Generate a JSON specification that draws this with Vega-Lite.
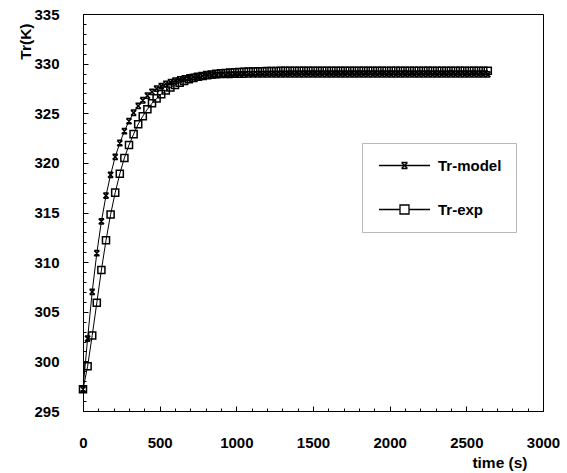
{
  "$schema": "https://vega.github.io/schema/vega-lite/v6.json",
  "width": 460,
  "height": 397,
  "autosize": {"type": "none"},
  "padding": {"left": 83, "top": 14, "right": 24, "bottom": 62},
  "background": "white",
  "config": {
    "view": {"stroke": "black", "strokeWidth": 1},
    "font": "Liberation Sans"
  },
  "data": {
    "values": [
      {"t": 0, "Tr-model": 297.2, "Tr-exp": 297.2},
      {"t": 30, "Tr-model": 302.3, "Tr-exp": 299.5},
      {"t": 60, "Tr-model": 307.0, "Tr-exp": 302.6},
      {"t": 90, "Tr-model": 310.9, "Tr-exp": 305.9},
      {"t": 120, "Tr-model": 314.1, "Tr-exp": 309.2},
      {"t": 150, "Tr-model": 316.7, "Tr-exp": 312.2},
      {"t": 180, "Tr-model": 318.8, "Tr-exp": 314.8},
      {"t": 210, "Tr-model": 320.6, "Tr-exp": 317.0},
      {"t": 240, "Tr-model": 322.0, "Tr-exp": 318.9},
      {"t": 270, "Tr-model": 323.2, "Tr-exp": 320.5},
      {"t": 300, "Tr-model": 324.2, "Tr-exp": 321.8},
      {"t": 330, "Tr-model": 325.05, "Tr-exp": 322.9},
      {"t": 360, "Tr-model": 325.74, "Tr-exp": 323.9},
      {"t": 390, "Tr-model": 326.31, "Tr-exp": 324.7},
      {"t": 420, "Tr-model": 326.77, "Tr-exp": 325.4},
      {"t": 450, "Tr-model": 327.16, "Tr-exp": 326.0},
      {"t": 480, "Tr-model": 327.48, "Tr-exp": 326.5},
      {"t": 510, "Tr-model": 327.74, "Tr-exp": 326.93},
      {"t": 540, "Tr-model": 327.96, "Tr-exp": 327.29},
      {"t": 570, "Tr-model": 328.14, "Tr-exp": 327.59},
      {"t": 600, "Tr-model": 328.29, "Tr-exp": 327.85},
      {"t": 630, "Tr-model": 328.41, "Tr-exp": 328.07},
      {"t": 660, "Tr-model": 328.51, "Tr-exp": 328.26},
      {"t": 690, "Tr-model": 328.6, "Tr-exp": 328.42},
      {"t": 720, "Tr-model": 328.67, "Tr-exp": 328.55},
      {"t": 750, "Tr-model": 328.72, "Tr-exp": 328.67},
      {"t": 780, "Tr-model": 328.77, "Tr-exp": 328.76},
      {"t": 810, "Tr-model": 328.8, "Tr-exp": 328.84},
      {"t": 840, "Tr-model": 328.83, "Tr-exp": 328.91},
      {"t": 870, "Tr-model": 328.85, "Tr-exp": 328.97},
      {"t": 900, "Tr-model": 328.86, "Tr-exp": 329.02},
      {"t": 930, "Tr-model": 328.87, "Tr-exp": 329.06},
      {"t": 960, "Tr-model": 328.88, "Tr-exp": 329.1},
      {"t": 990, "Tr-model": 328.89, "Tr-exp": 329.13},
      {"t": 1020, "Tr-model": 328.9, "Tr-exp": 329.16},
      {"t": 1050, "Tr-model": 328.9, "Tr-exp": 329.18},
      {"t": 1080, "Tr-model": 328.91, "Tr-exp": 329.2},
      {"t": 1110, "Tr-model": 328.91, "Tr-exp": 329.21},
      {"t": 1140, "Tr-model": 328.91, "Tr-exp": 329.23},
      {"t": 1170, "Tr-model": 328.92, "Tr-exp": 329.24},
      {"t": 1200, "Tr-model": 328.92, "Tr-exp": 329.25},
      {"t": 1230, "Tr-model": 328.92, "Tr-exp": 329.26},
      {"t": 1260, "Tr-model": 328.92, "Tr-exp": 329.26},
      {"t": 1290, "Tr-model": 328.92, "Tr-exp": 329.27},
      {"t": 1320, "Tr-model": 328.92, "Tr-exp": 329.27},
      {"t": 1350, "Tr-model": 328.92, "Tr-exp": 329.28},
      {"t": 1380, "Tr-model": 328.92, "Tr-exp": 329.28},
      {"t": 1410, "Tr-model": 328.92, "Tr-exp": 329.28},
      {"t": 1440, "Tr-model": 328.92, "Tr-exp": 329.29},
      {"t": 1470, "Tr-model": 328.92, "Tr-exp": 329.29},
      {"t": 1500, "Tr-model": 328.92, "Tr-exp": 329.29},
      {"t": 1530, "Tr-model": 328.92, "Tr-exp": 329.29},
      {"t": 1560, "Tr-model": 328.92, "Tr-exp": 329.29},
      {"t": 1590, "Tr-model": 328.92, "Tr-exp": 329.29},
      {"t": 1620, "Tr-model": 328.92, "Tr-exp": 329.29},
      {"t": 1650, "Tr-model": 328.92, "Tr-exp": 329.29},
      {"t": 1680, "Tr-model": 328.92, "Tr-exp": 329.29},
      {"t": 1710, "Tr-model": 328.92, "Tr-exp": 329.29},
      {"t": 1740, "Tr-model": 328.92, "Tr-exp": 329.29},
      {"t": 1770, "Tr-model": 328.92, "Tr-exp": 329.29},
      {"t": 1800, "Tr-model": 328.92, "Tr-exp": 329.29},
      {"t": 1830, "Tr-model": 328.92, "Tr-exp": 329.29},
      {"t": 1860, "Tr-model": 328.92, "Tr-exp": 329.29},
      {"t": 1890, "Tr-model": 328.92, "Tr-exp": 329.29},
      {"t": 1920, "Tr-model": 328.92, "Tr-exp": 329.29},
      {"t": 1950, "Tr-model": 328.92, "Tr-exp": 329.29},
      {"t": 1980, "Tr-model": 328.92, "Tr-exp": 329.29},
      {"t": 2010, "Tr-model": 328.92, "Tr-exp": 329.29},
      {"t": 2040, "Tr-model": 328.92, "Tr-exp": 329.29},
      {"t": 2070, "Tr-model": 328.92, "Tr-exp": 329.29},
      {"t": 2100, "Tr-model": 328.92, "Tr-exp": 329.29},
      {"t": 2130, "Tr-model": 328.92, "Tr-exp": 329.29},
      {"t": 2160, "Tr-model": 328.92, "Tr-exp": 329.29},
      {"t": 2190, "Tr-model": 328.92, "Tr-exp": 329.29},
      {"t": 2220, "Tr-model": 328.92, "Tr-exp": 329.29},
      {"t": 2250, "Tr-model": 328.92, "Tr-exp": 329.29},
      {"t": 2280, "Tr-model": 328.92, "Tr-exp": 329.29},
      {"t": 2310, "Tr-model": 328.92, "Tr-exp": 329.29},
      {"t": 2340, "Tr-model": 328.92, "Tr-exp": 329.29},
      {"t": 2370, "Tr-model": 328.92, "Tr-exp": 329.29},
      {"t": 2400, "Tr-model": 328.92, "Tr-exp": 329.29},
      {"t": 2430, "Tr-model": 328.92, "Tr-exp": 329.29},
      {"t": 2460, "Tr-model": 328.92, "Tr-exp": 329.29},
      {"t": 2490, "Tr-model": 328.92, "Tr-exp": 329.29},
      {"t": 2520, "Tr-model": 328.92, "Tr-exp": 329.29},
      {"t": 2550, "Tr-model": 328.92, "Tr-exp": 329.29},
      {"t": 2580, "Tr-model": 328.92, "Tr-exp": 329.29},
      {"t": 2610, "Tr-model": 328.92, "Tr-exp": 329.29},
      {"t": 2640, "Tr-model": 328.92, "Tr-exp": 329.29}
    ]
  },
  "transform": [{"fold": ["Tr-model", "Tr-exp"], "as": ["series", "T"]}],
  "layer": [
    {
      "mark": {"type": "line", "color": "black", "strokeWidth": 1},
      "encoding": {
        "x": {
          "field": "t", "type": "quantitative",
          "scale": {"domain": [0, 3000], "nice": false, "zero": false},
          "axis": {
            "orient": "bottom", "format": "d",
            "values": [0, 500, 1000, 1500, 2000, 2500, 3000],
            "grid": false, "domainColor": "black", "tickColor": "black",
            "tickSize": -5, "labelPadding": 29,
            "labelFont": "Liberation Sans", "labelFontSize": 15, "labelFontWeight": "bold", "labelColor": "black",
            "labelFlush": false, "labelOverlap": false,
            "title": "time (s)", "titleFont": "Liberation Sans", "titleFontSize": 15.5, "titleFontWeight": "bold", "titleColor": "black",
            "titleX": 444, "titleY": 44, "titleAlign": "right", "titleBaseline": "top"
          }
        },
        "y": {
          "field": "T", "type": "quantitative",
          "scale": {"domain": [295, 335], "nice": false, "zero": false},
          "axis": {
            "orient": "left", "format": "d",
            "values": [295, 300, 305, 310, 315, 320, 325, 330, 335],
            "grid": false, "domainColor": "black", "tickColor": "black",
            "tickSize": -5, "labelPadding": 29,
            "labelFont": "Liberation Sans", "labelFontSize": 15, "labelFontWeight": "bold", "labelColor": "black",
            "labelFlush": false, "labelOverlap": false,
            "title": "Tr(K)", "titleFont": "Liberation Sans", "titleFontSize": 15.5, "titleFontWeight": "bold", "titleColor": "black",
            "titleAngle": -90, "titleX": -58, "titleY": 9, "titleAlign": "right", "titleBaseline": "middle"
          }
        },
        "detail": {"field": "series"}
      }
    },
    {
      "mark": {"type": "point", "filled": false, "color": "black", "strokeWidth": 1.5, "size": 50, "opacity": 1},
      "encoding": {
        "x": {
          "field": "t", "type": "quantitative",
          "axis": {
            "orient": "bottom",
            "values": [0,100,200,300,400,500,600,700,800,900,1000,1100,1200,1300,1400,1500,1600,1700,1800,1900,2000,2100,2200,2300,2400,2500,2600,2700,2800,2900,3000],
            "labels": false, "domain": false, "grid": false, "tickColor": "black", "tickSize": -3, "title": null
          }
        },
        "y": {
          "field": "T", "type": "quantitative",
          "axis": {
            "orient": "left",
            "values": [295,296,297,298,299,300,301,302,303,304,305,306,307,308,309,310,311,312,313,314,315,316,317,318,319,320,321,322,323,324,325,326,327,328,329,330,331,332,333,334,335],
            "labels": false, "domain": false, "grid": false, "tickColor": "black", "tickSize": -3, "title": null
          }
        },
        "shape": {
          "field": "series", "type": "nominal",
          "scale": {"domain": ["Tr-model", "Tr-exp"], "range": ["M-0.75,-0.75L0.75,0.75M0.75,-0.75L-0.75,0.75M-0.75,-0.75H0.75M-0.75,0.75H0.75", "square"]},
          "legend": null
        }
      }
    },
    {
      "mark": {"type": "point", "filled": false, "color": "black", "strokeWidth": 1.3, "size": 0, "opacity": 1},
      "encoding": {
        "x": {"field": "t", "type": "quantitative", "axis": null},
        "y": {"field": "T", "type": "quantitative", "axis": null},
        "shape": {
          "field": "series", "type": "nominal",
          "scale": {"domain": ["Tr-model", "Tr-exp"], "range": [
            "M-0.733,0H6.067M2.267,-0.4L3.067,0.4M3.067,-0.4L2.267,0.4M2.267,-0.4H3.067M2.267,0.4H3.067",
            "M-0.733,0H2.067M3.267,0H6.067M2.067,-0.6H3.267V0.6H2.067Z"
          ]},
          "legend": {
            "orient": "none", "legendX": 279, "legendY": 129, "title": null,
            "strokeColor": "#b8b8b8", "padding": 14, "fillColor": "white",
            "symbolSize": 225, "symbolStrokeWidth": 1.3, "symbolStrokeColor": "black", "symbolOpacity": 1,
            "labelFont": "Liberation Sans", "labelFontSize": 15, "labelFontWeight": "bold", "labelColor": "black",
            "labelOffset": 45, "rowPadding": 27
          }
        }
      }
    }
  ],
  "resolve": {"axis": {"x": "independent", "y": "independent"}, "scale": {"shape": "independent"}}
}
